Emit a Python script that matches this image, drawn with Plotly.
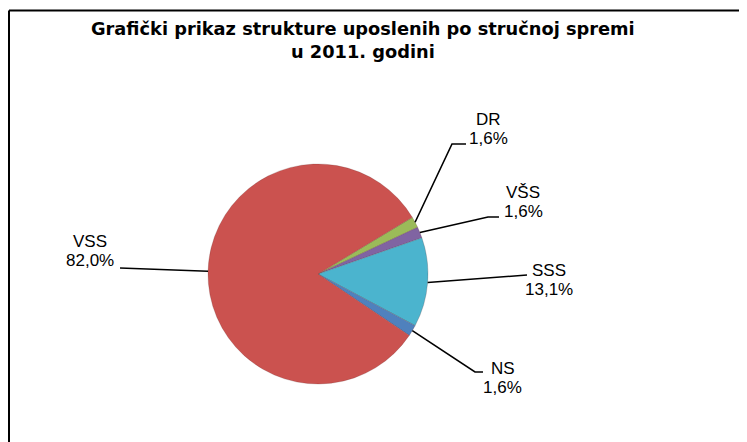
import math
import plotly.graph_objects as go

# ---- data ----
categories = ["DR", "VŠS", "SSS", "NS", "VSS"]
counts = [1, 1, 8, 1, 50]
colors = ["#9BBB59", "#8064A2", "#4BB4CE", "#4F81BD", "#CB524F"]
title_lines = ["Grafički prikaz strukture uposlenih po stručnoj spremi", "u 2011. godini"]

# page has an 8px body margin; figure fills the rest of the 747x442 window
OFF = 8
FW, FH = 747 - OFF, 442 - OFF
FONT = "Liberation Sans, Arial, sans-serif"

# pie geometry (screen pixels)
cx, cy, R = 318, 274, 110
start_deg = 59  # clockwise from 12 o'clock


def px(x):
    return (x - OFF) / FW


def py(y):
    return 1 - (y - OFF) / FH


fig = go.Figure()
fig.add_trace(go.Pie(
    labels=categories, values=counts, sort=False, direction="clockwise",
    rotation=start_deg, textinfo="none", hoverinfo="label+percent",
    marker=dict(colors=colors, line=dict(color="rgba(90,40,40,0.35)", width=0.6)),
    domain=dict(x=[px(cx - R), px(cx + R)], y=[py(cy + R), py(cy - R)]),
    showlegend=False,
))

# label layout: text block centre and leader-line path after leaving the rim
label_layout = {
    "DR":  dict(text=(488, 129), path=[(452, 144), (466, 144)]),
    "VŠS": dict(text=(523, 202), path=[(488, 217), (499, 217)]),
    "SSS": dict(text=(549, 280), path=[(527, 275)]),
    "NS":  dict(text=(503, 378), path=[(475, 372), (483, 372)]),
    "VSS": dict(text=(90, 251), path=[(120, 268)]),
}
LINE_GAP = 19.5

total = sum(counts)
cum = 0
shapes = []
annotations = []
for cat, v in zip(categories, counts):
    mid_frac = (cum + v / 2) / total
    cum += v
    ang = math.radians(90 - start_deg - 360 * mid_frac)
    rx = cx + R * math.cos(ang)
    ry = cy - R * math.sin(ang)
    pts = [(rx, ry)] + label_layout[cat]["path"]
    d = "M " + " L ".join(f"{px(a):.5f},{py(b):.5f}" for a, b in pts)
    shapes.append(dict(type="path", xref="paper", yref="paper", path=d,
                       line=dict(color="black", width=1.6)))
    pct = f"{v / total * 100:.1f}".replace(".", ",") + "%"
    tx, ty = label_layout[cat]["text"]
    for line_txt, dy in ((cat, -LINE_GAP / 2), (pct, LINE_GAP / 2)):
        annotations.append(dict(x=px(tx), y=py(ty + dy), xref="paper", yref="paper",
                                text=line_txt, showarrow=False,
                                xanchor="center", yanchor="middle", align="center",
                                font=dict(family=FONT, size=17, color="black")))

annotations.append(dict(x=px(363), y=py(40), xref="paper", yref="paper",
                        text="<b>" + title_lines[0] + "</b><br><b>" + title_lines[1] + "</b>",
                        showarrow=False, xanchor="center", yanchor="middle", align="center",
                        font=dict(family="DejaVu Sans, sans-serif", size=17.8, color="black")))

# chart frame (top and left edges visible)
shapes.append(dict(type="line", xref="paper", yref="paper", x0=px(9), y0=py(10.5), x1=1.01, y1=py(10.5),
                   line=dict(color="black", width=2)))
shapes.append(dict(type="line", xref="paper", yref="paper", x0=px(9), y0=py(10.5), x1=px(9), y1=-0.01,
                   line=dict(color="black", width=2)))

fig.update_layout(
    width=FW, height=FH, margin=dict(l=0, r=0, t=0, b=0),
    paper_bgcolor="white", plot_bgcolor="white",
    separators=",.",
    shapes=shapes, annotations=annotations,
    font=dict(family=FONT),
)
fig.write_html("out.html")
